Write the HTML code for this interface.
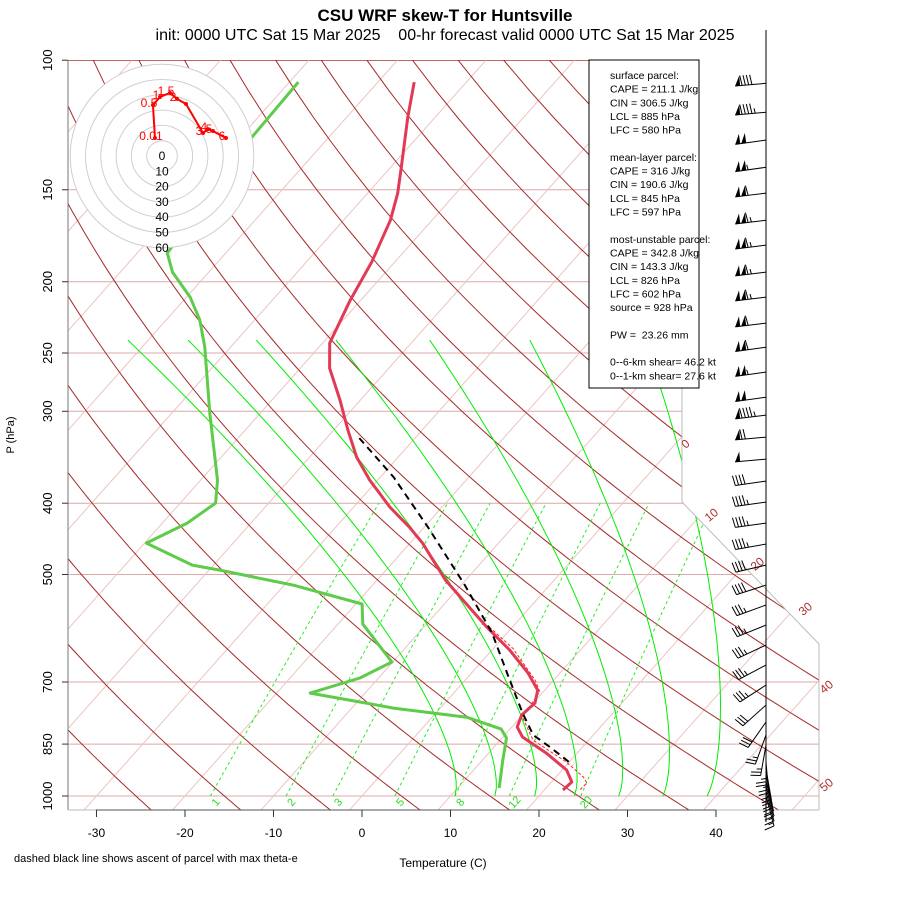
<!DOCTYPE html>
<html><head><meta charset="utf-8"><style>
html,body{margin:0;padding:0;background:#fff;}
svg text{font-family:"Liberation Sans",Arial,sans-serif;}
</style></head><body>
<svg id="chart" width="900" height="900" viewBox="0 0 900 900" xmlns="http://www.w3.org/2000/svg">
<defs><clipPath id="plotclip"><polygon points="68,60 682,60 682,502 819,644 819,810 68,810"/></clipPath></defs>
<rect x="0" y="0" width="900" height="900" fill="#fff"/>
<text x="445" y="21" font-size="17" font-weight="bold" text-anchor="middle">CSU WRF skew-T for Huntsville</text>
<text x="445" y="40" font-size="16" text-anchor="middle" xml:space="preserve">init: 0000 UTC Sat 15 Mar 2025    00-hr forecast valid 0000 UTC Sat 15 Mar 2025</text>
<g id="grid" clip-path="url(#plotclip)"></g>
<g id="series"></g>
<g id="axes"></g>
<g id="hodo"></g>
<g id="info"></g>
<g id="barbs"></g>
<text x="443" y="867" font-size="12" text-anchor="middle">Temperature (C)</text>
<text x="14" y="862" font-size="11">dashed black line shows ascent of parcel with max theta-e</text>
<text x="14" y="435" font-size="11" text-anchor="middle" transform="rotate(-90 14 435)">P (hPa)</text>
</svg>
<script>
// ---- data ----
const tempP=[107.1,119.5,139.8,151.6,165,188.2,211.9,242.4,262.1,289.7,318.2,346.2,372.1,404.9,431,453.2,508.7,541.6,589.3,633.3,680.6,717.8,747.5,776.1,805.8,831.4,874.2,921.9,957.2,981.3];
const tempT=[-65.9,-63.1,-58.8,-56.6,-54.7,-52.6,-51.2,-49.2,-46.7,-42.3,-38.4,-34.7,-30.9,-25.9,-21.7,-18.6,-12.3,-8.3,-2.9,2.0,6.4,9.2,10.2,9.9,10.6,12.2,16.5,20.5,22.3,22.1];
const dewP=[107.1,127.2,182.9,194.1,209.9,225.5,245.5,301.8,372.1,399.9,425.7,453.2,485.5,493.2,516.8,548.4,583.9,657.5,691.3,724.6,745.3,759.4,781.3,811,834.1,893.6,975.2];
const dewT=[-79.0,-78.7,-76.6,-74.1,-69.6,-66.2,-62.9,-55.7,-48.1,-46.0,-47.2,-49.8,-42.4,-38.8,-29.0,-19.3,-17.2,-10.1,-12.1,-16.2,-9.6,-5.3,3.9,9.0,10.5,12.3,14.7];
const parcelP=[326.3,368.6,431,516.8,600.4,689.2,771.4,826.1,857.7,907.6];
const parcelT=[-36.3,-28.5,-19.6,-9.6,-1.7,4.6,9.8,13.2,16.3,20.7];
const virtP=[589.3,630,695.8,721.4,781.3,839.6,899.3,942.3,960,981.3];
const virtT=[-2.6,2.2,7.9,9.6,10.2,13.7,19.7,23.1,24.1,24.0];
const hodoU=[-4.6,-5.9,-1.3,5.2,9.8,15.7,26.8,30.0,33.3,41.8];
const hodoV=[11.8,33.3,38.6,41.2,37.3,34.0,15.0,17.6,16.3,11.8];
const hodoLabels=["0.01","0.5","1","1.5","2","","3","4","5","6"];
const barbP=[107.5,117.7,128.4,139.8,151.6,165,178.4,194.1,209.9,227.7,245.5,265.4,287.1,303.6,325.3,348.5,373.3,398.6,425.7,454.6,485.5,516.8,550.1,585.7,623.5,663.7,706.7,752.3,793.3,826.1,852.5,877,899.3,919.3,936.7,954.4,969.5,984.5,1000];
const barbSpd=[90,95,100,105,110,115,115,115,115,110,110,105,100,95,70,50,40,45,45,45,40,40,35,35,35,35,35,30,30,25,25,25,25,20,20,20,20,15,15];
const barbDir=[265,265,262,262,263,263,263,263,263,263,262,262,262,263,265,265,262,262,262,260,257,252,250,248,245,242,237,228,215,200,190,180,175,170,168,166,165,165,165];
const pTicks=[100,150,200,250,300,400,500,700,850,1000];
const tTicks=[-30,-20,-10,0,10,20,30,40];
const mixW=[1,2,3,5,8,12,20];
const moistBottomT=[10.5,15,19.5,24,29,34,39];
const moistTopT=[-72.3,-65.5,-57.8,-48.8,-38.2,-26.9,-13.9];
const infoLines=["surface parcel:","CAPE = 211.1 J/kg","CIN = 306.5 J/kg","LCL = 885 hPa","LFC = 580 hPa","","mean-layer parcel:","CAPE = 316 J/kg","CIN = 190.6 J/kg","LCL = 845 hPa","LFC = 597 hPa","","most-unstable parcel:","CAPE = 342.8 J/kg","CIN = 143.3 J/kg","LCL = 826 hPa","LFC = 602 hPa","source = 928 hPa","","PW =  23.26 mm","","0--6-km shear= 46.2 kt","0--1-km shear= 27.6 kt"];

// ---- scales ----
const NS="http://www.w3.org/2000/svg";
function yu(p){return 132.182-44.061*Math.log10(p);}
function yOf(p){return 796-16.70*yu(p);}
function xOf(T,p){return 362+16.39*(0.54*T+0.907*yu(p));}
function mk(tag,attrs,parent){const e=document.createElementNS(NS,tag);for(const k in attrs)e.setAttribute(k,attrs[k]);parent.appendChild(e);return e;}
function pathFrom(Ts,Ps){return Ts.map((t,i)=>(i?'L':'M')+xOf(t,Ps[i]).toFixed(1)+','+yOf(Ps[i]).toFixed(1)).join(' ');}
const grid=document.getElementById('grid'),series=document.getElementById('series'),axes=document.getElementById('axes');

// pressure lines
pTicks.forEach(p=>{const l=mk('line',{x1:68,x2:830,y1:yOf(p),y2:yOf(p),stroke:p==100?'#a33':'#dca8a8','stroke-width':1},grid);

});
// isotherms
for(let T=-110;T<=60;T+=10){const l=mk('line',{x1:xOf(T,1050),y1:yOf(1050),x2:xOf(T,100),y2:yOf(100),stroke:'#ecc4c4','stroke-width':1},grid);

}
// dry adiabats
for(let th=217.6;th<=480;th+=10){let d='';for(let p=1050;p>=100;p-=10){const T=th*Math.pow(p/1000,0.288)-273.15;d+=(p==1050?'M':'L')+xOf(T,p).toFixed(1)+','+yOf(p).toFixed(1);}
const e=mk('path',{d:d,fill:'none',stroke:'#a52a2a','stroke-width':1},grid);

}
// mixing ratio lines
function tdFromW(w,p){const e=w*p/(622+w);const l=Math.log(e/6.112);return 243.5*l/(17.67-l);}
mixW.forEach(w=>{let d='';for(let p=1000;p>=400;p-=10){d+=(p==1000?'M':'L')+xOf(tdFromW(w,p),p).toFixed(1)+','+yOf(p).toFixed(1);}
const e=mk('path',{d:d,fill:'none',stroke:'#22ee22','stroke-width':1,'stroke-dasharray':'3,3'},grid);


const x=xOf(tdFromW(w,1000),1000)+5;const t=mk('text',{x:x,y:806,'font-size':11,fill:'#22dd22','text-anchor':'middle',transform:'rotate(-50 '+x+' 802)'},axes);t.textContent=w;

});
// moist adiabats
moistBottomT.forEach((tb,i)=>{const tt=moistTopT[i];const yTop=27.3;let d='';for(let k=0;k<=60;k++){const u=yTop*k/60;const T=tb+(tt-tb)*Math.pow(u/yTop,1.2);const p=Math.pow(10,(132.182-u)/44.061);d+=(k?'L':'M')+xOf(T,p).toFixed(1)+','+yOf(p).toFixed(1);}
const e=mk('path',{d:d,fill:'none',stroke:'#00ee00','stroke-width':1},grid);

});
// plot border
const b=mk('polyline',{points:'682,60 682,502 819,644 819,810',fill:'none',stroke:'#bbb','stroke-width':1},axes);


const la=mk('line',{x1:68,y1:60,x2:68,y2:810,stroke:'#777','stroke-width':1},axes);


const ba=mk('line',{x1:68,y1:810,x2:819,y2:810,stroke:'#bbb','stroke-width':1},axes);


const xa=mk('line',{x1:96,y1:810,x2:716,y2:810,stroke:'#555','stroke-width':1},axes);


// isotherm labels
const isoLab=[["0",688,447],["10",714,518],["20",760,567],["30",808,612],["40",829,690],["50",829,788]];
isoLab.forEach(a=>{const t=mk('text',{x:a[1],y:a[2],'font-size':12,fill:'#b03030','text-anchor':'middle',transform:'rotate(-40 '+a[1]+' '+a[2]+')'},axes);t.textContent=a[0];

});
// y ticks
pTicks.forEach(p=>{const y=yOf(p);const l=mk('line',{x1:62,x2:68,y1:y,y2:y,stroke:'#333'},axes);


const t=mk('text',{x:52,y:y,'font-size':13,'text-anchor':'middle',transform:'rotate(-90 52 '+y+')'},axes);t.textContent=p;

});
// x ticks
tTicks.forEach(T=>{const x=xOf(T,1000);const l=mk('line',{x1:x,x2:x,y1:810,y2:817,stroke:'#333'},axes);


const t=mk('text',{x:x,y:837,'font-size':12,'text-anchor':'middle'},axes);t.textContent=T;

});

// series
const dp=mk('path',{d:pathFrom(dewT,dewP),fill:'none',stroke:'#5fcb4b','stroke-width':3,'stroke-linejoin':'round'},series);


const vp=mk('path',{d:pathFrom(virtT,virtP),fill:'none',stroke:'#ff2020','stroke-width':1,'stroke-dasharray':'3,2'},series);


const tp=mk('path',{d:pathFrom(tempT,tempP),fill:'none',stroke:'#e23a55','stroke-width':3,'stroke-linejoin':'round'},series);


const pp=mk('path',{d:pathFrom(parcelT,parcelP),fill:'none',stroke:'#000','stroke-width':2,'stroke-dasharray':'7,5'},series);



// hodograph
const hodo=document.getElementById('hodo');const hc=[162,156],ks=1.53;
const bg=mk('circle',{cx:hc[0],cy:hc[1],r:92,fill:'#fff',stroke:'none'},hodo);


for(let k=1;k<=6;k++){const c=mk('circle',{cx:hc[0],cy:hc[1],r:k*10*ks,fill:'none',stroke:'#cfcfcf','stroke-width':1},hodo);

}
for(let k=0;k<=6;k++){const t=mk('text',{x:hc[0],y:hc[1]+k*10*ks+4,'font-size':12,'text-anchor':'middle'},hodo);t.textContent=k*10;

}
const hp=hodoU.map((u,i)=>[hc[0]+u*ks,hc[1]-hodoV[i]*ks]);
const hl=mk('polyline',{points:hp.map(a=>a.join(',')).join(' '),fill:'none',stroke:'#ff0000','stroke-width':2},hodo);


hp.forEach((a,i)=>{const c=mk('circle',{cx:a[0],cy:a[1],r:2,fill:'#ff0000'},hodo);


if(hodoLabels[i]){const t=mk('text',{x:a[0]-4,y:a[1]+2,'font-size':12,fill:'#ff0000','text-anchor':'middle'},hodo);t.textContent=hodoLabels[i];

}});

// info box
const info=document.getElementById('info');
const ib=mk('rect',{x:589,y:60,width:110,height:328,fill:'#fff',stroke:'#000','stroke-width':1},info);


infoLines.forEach((s,i)=>{if(!s)return;const t=mk('text',{x:610,y:79+i*13.65,'font-size':10.5},info);t.setAttribute('xml:space','preserve');t.style.whiteSpace='pre';t.textContent=s;

});

// wind barbs
const bb=document.getElementById('barbs');
const st=mk('line',{x1:766,y1:30,x2:766,y2:822,stroke:'#000','stroke-width':1},bb);


barbP.forEach((p,i)=>{const y0=yOf(p),x0=766,L=31,r=barbDir[i]*Math.PI/180;const sx=Math.sin(r),sy=-Math.cos(r);const px=-sy,py=sx;
const g=mk('g',{},bb);


mk('line',{x1:x0,y1:y0,x2:x0+sx*L,y2:y0+sy*L,stroke:'#000','stroke-width':1},g);
let s=Math.round(barbSpd[i]/5)*5,pos=L;const P=d=>[x0+sx*d,y0+sy*d];
while(s>=50){const a=P(pos),c=P(pos-5);mk('polygon',{points:[a,c,[c[0]+px*10,c[1]+py*10]].map(q=>q.join(',')).join(' '),fill:'#000'},g);pos-=6;s-=50;}
if(pos<L)pos-=1;
while(s>=10){const a=P(pos);mk('line',{x1:a[0],y1:a[1],x2:a[0]+px*10+sx*1.5,y2:a[1]+py*10+sy*1.5,stroke:'#000','stroke-width':1},g);pos-=3.3;s-=10;}
if(s>=5){if(pos==L)pos-=3.3;const a=P(pos);mk('line',{x1:a[0],y1:a[1],x2:a[0]+px*5+sx*0.8,y2:a[1]+py*5+sy*0.8,stroke:'#000','stroke-width':1},g);}
});
</script>
</body></html>
